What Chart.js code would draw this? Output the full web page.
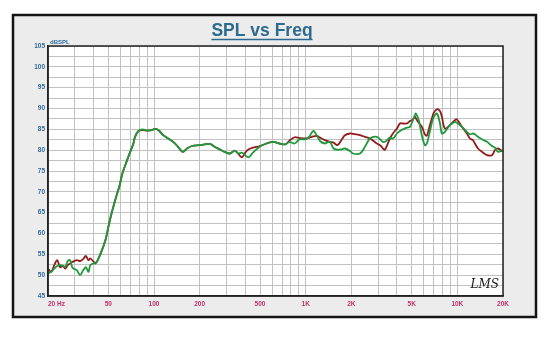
<!DOCTYPE html>
<html>
<head>
<meta charset="utf-8">
<title>SPL vs Freq</title>
<script src="https://cdn.jsdelivr.net/npm/chart.js@4.4.1/dist/chart.umd.min.js"></script>
<style>
  html, body { margin: 0; padding: 0; background: #ffffff; }
  canvas { display: block; }
</style>
</head>
<body>
<canvas id="splChart" width="550" height="350"></canvas>
<script>
// frequency points (Hz) shared by both measurements
const freqHz = [
    20, 21, 22, 23, 24, 25, 26, 27, 28, 29,
    31, 32.5, 34, 35.5, 37, 38, 40, 41, 42, 44,
    46, 48, 51, 54, 57, 59, 62, 66, 69, 73,
    75, 79, 84, 90, 97, 101, 107, 115, 124, 134,
    144, 155, 165, 178, 200, 233, 251, 271, 292, 316,
    341, 358, 380, 403, 421, 449, 498, 552, 609, 670,
    735, 783, 846, 914, 1000, 1060, 1122, 1182, 1243, 1340,
    1440, 1528, 1620, 1734, 1814, 1958, 2050, 2280, 2460, 2654,
    2950, 3134, 3230, 3332, 3592, 3760, 3998, 4180, 4376, 4652,
    4868, 5016, 5252, 5334, 5584, 5838, 6110, 6296, 6592, 6792,
    6998, 7328, 7674, 7908, 8280, 8934, 9640, 9932, 10716, 11560,
    12100, 12670, 13060, 13678, 14530, 15678, 16910, 17700, 18500, 20000
];

const redDb = [
    51.6, 50.8, 52.4, 53.6, 51.9, 52.2, 51.6, 52.4, 52.8, 53.2,
    53.6, 53.4, 53.8, 54.6, 53.6, 54.0, 53.2, 52.8, 53.2, 54.8,
    56.6, 58.6, 63.0, 66.5, 69.5, 71.2, 74.5, 77.3, 79.2, 81.5,
    83.2, 84.6, 84.8, 84.7, 84.8, 85.1, 84.8, 83.6, 82.8, 82.0,
    80.8, 79.6, 80.4, 81.0, 81.2, 81.5, 80.8, 80.2, 79.6, 79.2,
    79.9, 79.2, 78.3, 79.6, 80.2, 80.6, 81.0, 81.6, 82.0, 81.6,
    81.4, 82.3, 83.1, 82.9, 82.8, 83.0, 83.3, 83.4, 83.0, 82.4,
    82.0, 81.8, 81.2, 82.6, 83.6, 84.0, 83.9, 83.6, 83.2, 82.8,
    81.6, 81.0, 80.4, 80.1, 82.8, 84.0, 85.2, 86.4, 86.4, 86.4,
    87.0, 87.2, 88.0, 87.6, 86.5, 85.6, 83.8, 83.5, 86.0, 87.6,
    89.0, 89.8, 89.4, 88.0, 85.2, 86.0, 87.2, 87.4, 85.6, 84.0,
    82.8, 82.4, 81.6, 80.4, 79.6, 78.8, 78.8, 80.0, 80.4, 79.6
];

const greenDb = [
    50.4, 50.8, 51.6, 52.2, 52.4, 52.3, 52.0, 53.4, 53.6, 51.8,
    51.2, 50.0, 51.1, 51.9, 50.8, 52.4, 52.8, 53.0, 53.2, 54.8,
    56.6, 58.6, 63.0, 66.5, 69.5, 71.2, 74.5, 77.3, 79.2, 81.5,
    83.2, 84.6, 85.0, 84.7, 84.8, 85.1, 84.8, 83.6, 82.8, 82.0,
    80.8, 79.6, 80.4, 81.0, 81.2, 81.5, 80.8, 80.2, 79.6, 79.2,
    79.9, 79.2, 79.4, 78.6, 78.3, 79.4, 80.8, 81.6, 82.0, 81.6,
    81.4, 82.0, 81.6, 82.6, 82.6, 83.3, 84.6, 83.6, 82.2, 81.6,
    82.0, 80.4, 80.1, 80.2, 80.4, 79.8, 79.2, 79.2, 80.8, 82.8,
    83.2, 82.4, 82.0, 82.0, 83.0, 82.8, 84.0, 84.6, 85.0, 85.4,
    85.6, 86.6, 88.4, 88.8, 87.0, 83.5, 81.2, 81.6, 84.5, 86.6,
    88.0, 88.8, 86.5, 84.0, 84.4, 86.0, 86.8, 86.6, 85.6, 84.4,
    83.8, 84.0, 83.8, 83.2, 82.6, 82.0, 81.0, 80.6, 79.6, 80.0
];

// log grid lines along the frequency axis
const freqGrid = [
    20, 30, 40, 50, 60, 70, 80, 90,
    100, 200, 300, 400, 500, 600, 700, 800, 900,
    1000, 2000, 3000, 4000, 5000, 6000, 7000, 8000, 9000,
    10000, 20000
];
const freqLabelValues = [20, 50, 100, 200, 500, 1000, 2000, 5000, 10000, 20000];
const freqLabelText = ['20 Hz', '50', '100', '200', '500', '1K', '2K', '5K', '10K', '20K'];

const dbGrid = [45, 47.5, 50, 52.5, 55, 57.5, 60, 62.5, 65, 67.5, 70, 72.5, 75, 77.5,
    80, 82.5, 85, 87.5, 90, 92.5, 95, 97.5, 100, 102.5, 105];

const toPoints = (values) => values.map((v, i) => ({ x: freqHz[i], y: v }));

const framePlugin = {
    id: 'frame',
    beforeDraw(chart) {
        const ctx = chart.ctx;
        const area = chart.chartArea;
        ctx.save();
        ctx.fillStyle = '#ffffff';
        ctx.fillRect(0, 0, chart.width, chart.height);
        ctx.fillStyle = '#ececec';
        ctx.fillRect(13, 15, 523, 302);
        ctx.strokeStyle = '#151515';
        ctx.lineWidth = 2.5;
        ctx.strokeRect(13, 15, 523, 302);
        ctx.fillStyle = '#ffffff';
        ctx.fillRect(area.left, area.top, area.right - area.left, area.bottom - area.top);
        ctx.restore();
    },
    afterDraw(chart) {
        const ctx = chart.ctx;
        const area = chart.chartArea;
        ctx.save();
        ctx.strokeStyle = '#222222';
        ctx.lineWidth = 1.5;
        ctx.strokeRect(area.left, area.top, area.right - area.left, area.bottom - area.top);

        // underline under the title
        const tb = chart.titleBlock;
        ctx.font = 'bold 17.5px "Liberation Sans", Arial, sans-serif';
        const w = ctx.measureText(chart.options.plugins.title.text).width;
        const cx = (tb.left + tb.right) / 2;
        ctx.strokeStyle = '#2d6b8e';
        ctx.lineWidth = 1.6;
        ctx.beginPath();
        ctx.moveTo(cx - w / 2, 39.5);
        ctx.lineTo(cx + w / 2, 39.5);
        ctx.stroke();

        ctx.fillStyle = '#2f6a9c';
        ctx.font = 'bold 6px "Liberation Sans", Arial, sans-serif';
        ctx.textAlign = 'left';
        ctx.textBaseline = 'bottom';
        ctx.fillText('dBSPL', area.left + 2, area.top - 1);

        ctx.fillStyle = '#1a1a1a';
        ctx.font = 'italic 12px "DejaVu Serif", serif';
        ctx.textAlign = 'right';
        ctx.textBaseline = 'alphabetic';
        ctx.fillText('LMS', area.right - 4, area.bottom - 8);
        ctx.restore();
    }
};

const ctx = document.getElementById('splChart').getContext('2d');
const splChart = new Chart(ctx, {
    type: 'line',
    data: {
        datasets: [{
            label: 'red',
            data: toPoints(redDb),
            borderColor: '#921c1c',
            borderWidth: 1.8,
            pointRadius: 0,
            tension: 0.35,
            order: 1
        }, {
            label: 'green',
            data: toPoints(greenDb),
            borderColor: '#1e9a3c',
            borderWidth: 1.8,
            pointRadius: 0,
            tension: 0.35,
            order: 0
        }]
    },
    options: {
        responsive: false,
        animation: false,
        devicePixelRatio: 1,
        layout: {
            padding: { left: 21, top: 0, right: 47, bottom: 30 }
        },
        plugins: {
            legend: { display: false },
            tooltip: { enabled: false },
            title: {
                display: true,
                text: 'SPL vs Freq',
                color: '#2d6b8e',
                font: { family: '"Liberation Sans", Arial, sans-serif', size: 17.5, weight: 'bold', lineHeight: 1.2 },
                padding: { top: 20.5, bottom: 4.5 }
            }
        },
        scales: {
            x: {
                type: 'logarithmic',
                min: 20,
                max: 20000,
                afterBuildTicks: (scale) => {
                    // trailing duplicate keeps the last real label centred with align 'inner'
                    scale.ticks = freqGrid.concat([20000]).map(v => ({ value: v }));
                },
                afterFit: (scale) => { scale.height = 24; },
                ticks: {
                    autoSkip: false,
                    maxRotation: 0,
                    align: 'inner',
                    padding: 4,
                    color: '#c2306a',
                    font: { family: '"Liberation Sans", Arial, sans-serif', size: 6.5, weight: 'bold' },
                    callback: (value, index, ticks) => {
                        if (index === ticks.length - 1) return '';
                        const k = freqLabelValues.indexOf(value);
                        return k >= 0 ? freqLabelText[k] : '';
                    }
                },
                grid: { color: '#c2c2c2', lineWidth: 1, drawTicks: false },
                border: { color: '#222222', width: 1.5 }
            },
            y: {
                min: 45,
                max: 105,
                afterBuildTicks: (scale) => {
                    scale.ticks = dbGrid.map(v => ({ value: v }));
                },
                afterFit: (scale) => { scale.width = 27; },
                ticks: {
                    autoSkip: false,
                    padding: 3,
                    color: '#2f6a9c',
                    font: { family: '"Liberation Sans", Arial, sans-serif', size: 6.5, weight: 'bold' },
                    callback: (value) => (value % 5 === 0 ? String(value) : '')
                },
                grid: { color: '#c2c2c2', lineWidth: 1, drawTicks: false },
                border: { color: '#222222', width: 1.5 }
            }
        }
    },
    plugins: [framePlugin]
});
</script>
</body>
</html>
